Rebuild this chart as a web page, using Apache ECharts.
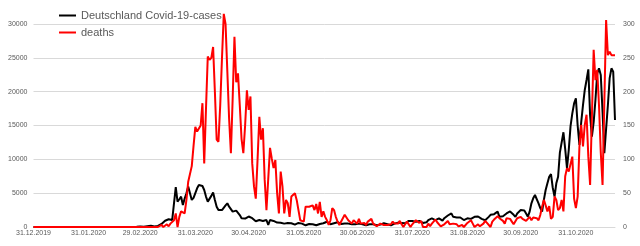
<!DOCTYPE html>
<html><head><meta charset="utf-8">
<script src="https://cdn.jsdelivr.net/npm/echarts@6/dist/echarts.min.js"></script>
<style>html,body{margin:0;padding:0;background:#fff}#c{width:640px;height:246px}</style>
</head><body><div id="c"></div>
<script>
// daily categories from 31.12.2019, 328 days (to 22.11.2020)
const startYear = 2019, startMonth = 11, startDay = 31;
const dayCount = 328;

const xTickLabels = ['31.12.2019','31.01.2020','29.02.2020','31.03.2020','30.04.2020','31.05.2020',
  '30.06.2020','31.07.2020','31.08.2020','30.09.2020','31.10.2020'];

// Deutschland Covid-19-cases (left axis), by month
const cases = [
  0,
  0,0,0,0,0,0,0,0,0,0,0,0,0,0,0,0,0,0,0,0,0,0,0,0,0,0,0,0,0,0,0,
  0,0,0,0,0,0,0,0,0,0,0,0,0,0,0,0,0,0,0,0,0,0,0,0,2,10,20,45,57,
  50,30,60,120,160,190,130,70,100,150,280,450,600,930,1050,1140,1100,1040,1100,5900,3750,4100,4480,3250,4200,4980,6000,6200,4000,4300,4480,
  5720,6200,6150,6060,5470,4500,3750,4000,4600,5100,4000,3000,2500,2270,2500,2760,3200,3500,3000,2760,2270,2300,2420,2100,1770,1300,1030,1250,1430,1550,
  1620,1300,1030,850,780,1030,950,900,950,1030,300,1030,950,900,700,650,600,640,600,500,450,600,700,550,400,350,450,600,780,500,300,
  250,350,450,500,400,300,250,300,450,500,550,700,780,500,400,300,550,800,700,600,450,350,500,550,500,450,400,300,400,450,
  500,450,400,300,250,350,400,450,400,350,250,200,350,450,550,500,400,300,250,400,500,600,650,700,600,400,550,800,900,1000,900,
  800,780,1030,900,780,600,440,700,1030,1200,1280,1200,1030,1100,1280,1200,930,1300,1520,1700,1770,2020,1500,1280,1400,1520,1400,1280,1030,1150,1280,
  1000,1200,1400,1500,1620,1550,1500,1200,1030,1000,1100,1500,1800,2020,1900,2100,2270,1500,1350,1600,1800,2000,2020,2300,2270,1800,1500,2000,2020,2500,
  2610,2450,2000,1530,2270,3500,4240,4730,4580,3500,2800,2270,4000,5470,6460,7430,7830,5800,4500,6460,7430,11000,11130,14000,11500,8700,11400,14900,16800,18280,19000,
  15000,12120,15500,18000,20250,21730,23300,16500,13340,15500,18770,22700,23450,22460,17000,10900,14500,18000,22000,23450,22950,15800
];

// deaths (right axis), by month
const deaths = [
  0,
  0,0,0,0,0,0,0,0,0,0,0,0,0,0,0,0,0,0,0,0,0,0,0,0,0,0,0,0,0,0,0,
  0,0,0,0,0,0,0,0,0,0,0,0,0,0,0,0,0,0,0,0,0,0,0,0,0,0,0,0,0,
  0,0,0,0,0,0,0,0,2,0,1,3,0,2,4,1,5,3,10,20,0,15,23,25,20,40,67,65,90,120,148,
  141,143,150,183,94,175,252,247,250,266,200,129,126,180,250,315,300,230,160,109,190,281,214,227,180,130,109,150,202,173,
  193,94,60,42,100,163,129,146,70,25,24,117,101,87,99,50,20,82,60,20,40,35,15,45,47,50,40,25,10,10,8,
  30,28,30,31,32,25,34,20,37,15,23,15,10,3,10,28,25,15,8,3,8,10,18,20,10,8,5,10,8,5,
  12,5,3,6,3,8,10,12,5,3,1,0,5,4,3,5,3,1,4,8,5,3,5,9,4,0,4,8,6,0,4,
  6,10,8,6,9,0,1,0,5,1,5,8,11,7,5,1,3,4,6,9,4,5,5,4,4,1,2,3,0,2,6,
  8,10,5,0,2,4,1,3,5,9,6,4,0,8,11,13,16,13,11,9,5,13,15,12,8,4,5,13,14,15,
  12,13,9,10,15,10,14,13,13,10,18,30,40,32,23,31,12,15,45,40,25,28,40,23,75,87,82,80,104,42,28,
  45,119,151,119,151,166,104,62,62,262,217,232,180,110,62,62,306,254,259,254,256,254
];

const seriesNames = ['Deutschland Covid-19-cases', 'deaths'];

function pad(n){ return (n < 10 ? '0' : '') + n; }
const categories = [];
for (let i = 0; i < dayCount; i++) {
  const d = new Date(Date.UTC(startYear, startMonth, startDay + i));
  categories.push(pad(d.getUTCDate()) + '.' + pad(d.getUTCMonth() + 1) + '.' + d.getUTCFullYear());
}

const FONT = '"Liberation Sans", Arial, sans-serif';
const LINE_ICON = 'path://M0,0H17V2H0Z';
const chart = echarts.init(document.getElementById('c'), null, {renderer: 'canvas'});
chart.setOption({
  animation: false,
  backgroundColor: '#ffffff',
  grid: {left: 33.5, right: 25, top: 24, bottom: 19, containLabel: false},
  legend: {
    orient: 'vertical', left: 54, top: 5,
    itemWidth: 17, itemHeight: 14, itemGap: 6,
    textStyle: {color: '#595959', fontSize: 11, fontFamily: FONT},
    data: seriesNames.map(function (n) { return {name: n, icon: LINE_ICON}; })
  },
  xAxis: {
    type: 'category', data: categories, boundaryGap: false,
    axisLine: {lineStyle: {color: '#d9d9d9', width: 1}},
    axisTick: {show: false},
    splitLine: {show: false},
    axisLabel: {
      interval: function (idx, val) { return xTickLabels.indexOf(val) >= 0; },
      color: '#595959', fontSize: 7, margin: 3, fontFamily: FONT
    }
  },
  yAxis: [
    {type: 'value', min: 0, max: 30000, interval: 5000,
     axisLine: {show: false}, axisTick: {show: false},
     axisLabel: {color: '#595959', fontSize: 7, margin: 6, fontFamily: FONT,
                 formatter: function (v) { return String(v); }},
     splitLine: {lineStyle: {color: '#d9d9d9', width: 1}}},
    {type: 'value', position: 'right', min: 0, max: 300, interval: 50,
     axisLine: {show: false}, axisTick: {show: false},
     axisLabel: {color: '#595959', fontSize: 7, margin: 8, fontFamily: FONT,
                 formatter: function (v) { return String(v); }},
     splitLine: {show: false}}
  ],
  series: [
    {name: seriesNames[0], type: 'line', data: cases, yAxisIndex: 0, clip: false,
     symbol: 'none', color: '#000000', lineStyle: {color: '#000000', width: 2}, z: 2},
    {name: seriesNames[1], type: 'line', data: deaths, yAxisIndex: 1, clip: false,
     symbol: 'none', color: '#ff0000', lineStyle: {color: '#ff0000', width: 2}, z: 3}
  ]
});
</script>
</body></html>
